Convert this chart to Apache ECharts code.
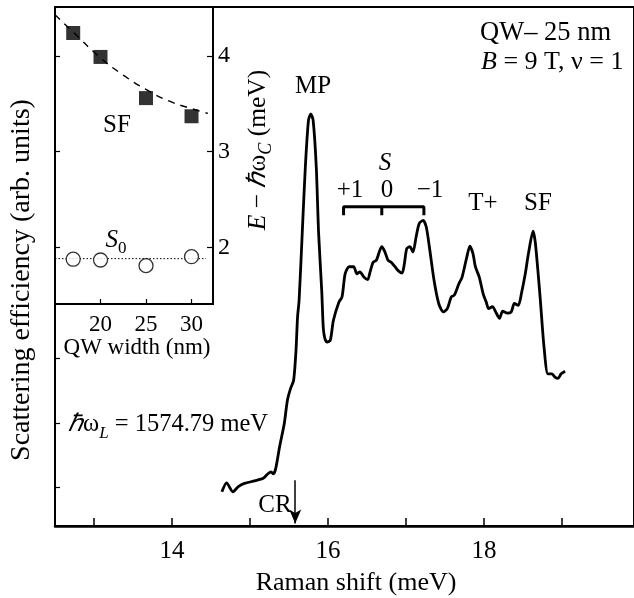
<!DOCTYPE html>
<html>
<head>
<meta charset="utf-8">
<script src="https://cdn.jsdelivr.net/npm/echarts@6/dist/echarts.min.js"></script>
<style>html,body{margin:0;padding:0;background:#fff}#c{width:634px;height:598px}</style>
</head>
<body>
<div id="c"></div>
<script>
// ---- Main spectrum (Raman shift meV, arb. units) ----
const ramanShift = [14.64,14.70,14.78,14.85,14.93,15.06,15.17,15.23,15.27,15.30,15.33,15.38,15.44,15.48,15.52,15.56,15.59,15.61,15.63,15.67,15.71,15.75,15.78,15.81,15.85,15.88,15.92,15.94,15.96,15.99,16.03,16.07,16.14,16.18,16.22,16.27,16.33,16.37,16.41,16.46,16.51,16.54,16.58,16.62,16.69,16.73,16.77,16.81,16.86,16.90,16.95,16.98,17.01,17.05,17.09,17.13,17.17,17.22,17.26,17.30,17.36,17.42,17.48,17.53,17.58,17.62,17.68,17.72,17.78,17.82,17.86,17.89,17.94,17.99,18.03,18.06,18.11,18.15,18.20,18.24,18.30,18.35,18.39,18.44,18.48,18.53,18.57,18.63,18.66,18.72,18.77,18.82,18.87,18.91,18.95,18.99,19.04];
const intensity = [0.53,0.67,0.53,0.61,0.66,0.70,0.74,0.81,0.84,0.81,0.89,1.23,1.59,1.95,2.13,2.26,2.72,3.24,3.50,4.54,5.57,6.29,6.39,6.29,5.57,4.54,3.65,3.07,2.91,2.85,2.88,3.19,3.47,3.55,3.91,4.02,4.02,3.91,3.94,3.86,3.82,3.94,4.09,4.12,4.33,4.25,4.12,4.09,4.02,3.96,3.92,4.07,4.30,4.33,4.25,4.48,4.69,4.74,4.64,4.33,3.81,3.45,3.32,3.37,3.55,3.58,3.76,3.86,4.17,4.34,4.22,4.02,3.86,3.60,3.47,3.37,3.40,3.32,3.22,3.33,3.30,3.32,3.45,3.42,3.60,3.91,4.22,4.57,4.38,3.55,2.78,2.36,2.36,2.31,2.29,2.36,2.40];
const mainXTicks = [13,14,15,16,17,18,19];
const mainXLabels = [14,16,18];
const mainYTicks = [0.6,1.6,2.6];
// S bracket (+1, 0, -1)
const bracketX = [16.20,16.69,17.23];
const bracketTop = 4.95, bracketBottom = 4.82;
// CR arrow
const crShift = 15.58, crTop = 0.71, crBottom = 0.04;

// ---- Inset ----
const qwWidth = [17,20,25,30];
const sfEnergy = [4.24,3.99,3.56,3.37];
const s0Energy = [1.876,1.868,1.809,1.903];
const fitWidth = [15,17,20,22.5,25,27.5,30,31.8];
const fitEnergy = [4.43,4.25,3.98,3.80,3.65,3.53,3.45,3.40];
const s0Level = 1.882, s0LineStart = 15, s0LineEnd = 31.6;
const insetXTicks = [20,25,30];
const insetYTicks = [2,3,4];

const FONT = '"Liberation Serif","Times New Roman",serif';
const chart = echarts.init(document.getElementById('c'), null, {renderer:'canvas'});

const zip = (a,b) => a.map((v,i)=>[v,b[i]]);
const txt = (x,y,text,extra) => Object.assign({type:'text', x, y, z:100, style:Object.assign({text, fill:'#000', fontFamily:FONT, fontSize:24, align:'center', verticalAlign:'middle'}, (extra&&extra.style)||{})}, extra?{rotation:extra.rotation||0}:{});

const option = {
  animation:false,
  backgroundColor:'#fff',
  grid:[
    {left:55, top:7, right:-6, bottom:72, show:true, borderColor:'#000', borderWidth:2, z:0},
    {left:55, top:7, width:158, height:297, show:true, borderColor:'#000', borderWidth:2, backgroundColor:'#fff', z:5}
  ],
  xAxis:[
    {gridIndex:0, type:'value', min:12.5, max:19.924, splitLine:{show:false},
     axisLine:{lineStyle:{color:'#000', width:2.5}},
     axisTick:{inside:true, length:8, lineStyle:{color:'#000', width:1.5}, customValues:mainXTicks},
     axisLabel:{customValues:mainXLabels, color:'#000', fontFamily:FONT, fontSize:25, margin:13}},
    {gridIndex:1, type:'value', min:15, max:32.36, splitLine:{show:false}, z:6,
     axisLine:{lineStyle:{color:'#000', width:2}},
     axisTick:{inside:true, length:5, lineStyle:{color:'#000', width:1.2}, customValues:insetXTicks},
     axisLabel:{customValues:insetXTicks, color:'#000', fontFamily:FONT, fontSize:23, margin:9}}
  ],
  yAxis:[
    {gridIndex:0, type:'value', min:0, max:8.047, splitLine:{show:false},
     axisLine:{show:true, lineStyle:{color:'#000', width:2}},
     axisTick:{show:true, inside:true, length:5, lineStyle:{color:'#000', width:1.2}, customValues:mainYTicks},
     axisLabel:{show:false}},
    {gridIndex:1, type:'value', position:'right', min:1.408, max:4.512, splitLine:{show:false}, z:6,
     axisLine:{show:true, lineStyle:{color:'#000', width:2}},
     axisTick:{show:true, inside:true, length:6, lineStyle:{color:'#000', width:1.2}, customValues:insetYTicks},
     axisLabel:{customValues:insetYTicks, color:'#000', fontFamily:FONT, fontSize:24, margin:5}},
    {gridIndex:1, type:'value', position:'left', min:1.408, max:4.512, splitLine:{show:false}, z:6,
     axisLine:{show:true, lineStyle:{color:'#000', width:2}},
     axisTick:{show:true, inside:true, length:5, lineStyle:{color:'#000', width:1.2}, customValues:insetYTicks},
     axisLabel:{show:false}}
  ],
  series:[
    {type:'line', xAxisIndex:0, yAxisIndex:0, data:zip(ramanShift,intensity), showSymbol:false, smooth:0.25,
     lineStyle:{color:'#000', width:2.8}, z:3,
     markLine:{silent:true, symbol:['none','arrow'], symbolSize:[9,14], label:{show:false},
       lineStyle:{color:'#000', width:1.5, type:'solid'},
       data:[[{coord:[crShift,crTop]},{coord:[crShift,crBottom]}]]}},
    {type:'line', xAxisIndex:0, yAxisIndex:0, showSymbol:false, z:3, lineStyle:{color:'#000', width:3},
     data:[[bracketX[0],bracketBottom],[bracketX[0],bracketTop],[bracketX[2],bracketTop],[bracketX[2],bracketBottom]]},
    {type:'line', xAxisIndex:0, yAxisIndex:0, showSymbol:false, z:3, lineStyle:{color:'#000', width:3},
     data:[[bracketX[1],bracketTop],[bracketX[1],bracketBottom]]},
    // inset
    {type:'line', xAxisIndex:1, yAxisIndex:1, data:zip(fitWidth,fitEnergy), showSymbol:false, smooth:true, z:7,
     lineStyle:{color:'#000', width:1.4, type:[7,6]}},
    {type:'line', xAxisIndex:1, yAxisIndex:1, data:[[s0LineStart,s0Level],[s0LineEnd,s0Level]], showSymbol:false, z:7,
     lineStyle:{color:'#000', width:1, type:[1.5,2]}},
    {type:'scatter', xAxisIndex:1, yAxisIndex:1, data:zip(qwWidth,sfEnergy), symbol:'rect', symbolSize:14, z:8,
     itemStyle:{color:'#000'}},
    {type:'scatter', xAxisIndex:1, yAxisIndex:1, data:zip(qwWidth,s0Energy), symbol:'circle', symbolSize:14, z:8,
     itemStyle:{color:'#fff', borderColor:'#000', borderWidth:1.3}}
  ],
  graphic:[
    txt(313,86,'MP',{style:{fontSize:25}}),
    txt(385,163,'S',{style:{fontStyle:'italic', fontSize:25}}),
    txt(350,190,'+1',{style:{fontSize:25}}),
    txt(387,190,'0',{style:{fontSize:25}}),
    txt(430,190,'\u22121',{style:{fontSize:25}}),
    txt(483,203,'T+',{style:{fontSize:25}}),
    txt(538,203,'SF',{style:{fontSize:25}}),
    txt(480,33,'QW\u2013 25 nm',{style:{align:'left', fontSize:26.5}}),
    txt(481,62,'{i|B} = 9 T, \u03bd = 1',{style:{align:'left', fontSize:26, rich:{i:{fontStyle:'italic', fontFamily:FONT, fontSize:26}}}}),
    txt(68,425,'{i|\u210f}\u03c9{s|L} = 1574.79 meV',{style:{align:'left', lineHeight:34, fontSize:24.5,
        rich:{i:{fontStyle:'italic', fontFamily:FONT, fontSize:24.5, lineHeight:34},
              s:{fontStyle:'italic', fontFamily:FONT, fontSize:17, lineHeight:34, verticalAlign:'bottom'}}}}),
    txt(275,505,'CR',{style:{fontSize:25}}),
    txt(117,125,'SF',{style:{fontSize:25}}),
    txt(116,240,'{i|S}{s|0}',{style:{lineHeight:34, rich:{i:{fontStyle:'italic', fontFamily:FONT, fontSize:25, lineHeight:34},
        s:{fontFamily:FONT, fontSize:17, lineHeight:34, verticalAlign:'bottom'}}}}),
    txt(137,348,'QW width (nm)',{style:{fontSize:23}}),
    txt(356,583,'Raman shift (meV)',{style:{fontSize:26}}),
    txt(22,280,'Scattering efficiency (arb. units)',{rotation:Math.PI/2, style:{fontSize:28}}),
    txt(258,150,'{i|E} \u2212 {i|\u210f}\u03c9{s|C} (meV)',{rotation:Math.PI/2, style:{fontSize:25.5, lineHeight:34,
        rich:{i:{fontStyle:'italic', fontFamily:FONT, fontSize:25.5, lineHeight:34},
              s:{fontStyle:'italic', fontFamily:FONT, fontSize:18, lineHeight:34, verticalAlign:'bottom'}}}})
  ]
};
chart.setOption(option);
</script>
</body>
</html>
